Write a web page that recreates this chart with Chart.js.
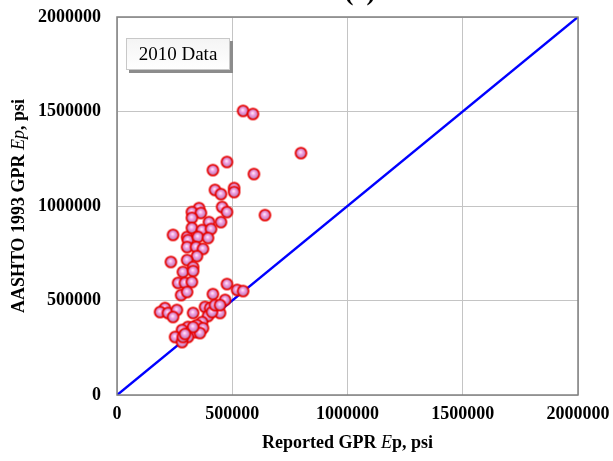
<!DOCTYPE html>
<html>
<head>
<meta charset="utf-8">
<script src="https://cdn.jsdelivr.net/npm/chart.js@4"></script>
<style>
  html, body { margin: 0; padding: 0; background: #fff; }
  #wrap { width: 613px; height: 461px; }
</style>
</head>
<body>
<div id="wrap"><canvas id="chart1" width="613" height="461"></canvas></div>
<script>
// Reported GPR Ep vs AASHTO 1993 GPR Ep (psi), 2010 data
const reportedEp = [
    547000, 590000, 798000, 594000, 477000, 416000, 508000, 508000, 425000, 451000,
    642000, 456000, 477000, 356000, 325000, 364000, 325000, 399000, 451000, 243000,
    304000, 325000, 369000, 408000, 308000, 351000, 395000, 304000, 343000, 373000,
    347000, 234000, 304000, 330000, 286000, 330000, 265000, 295000, 325000, 278000,
    304000,
    477000, 521000, 547000, 416000, 469000, 208000, 187000, 221000, 260000, 243000,
    382000, 404000, 434000, 330000, 395000, 447000, 369000, 351000, 308000, 282000,
    325000, 338000, 308000, 252000, 282000, 347000, 412000, 425000, 373000, 360000,
    286000, 447000, 330000, 295000
];
const aashtoEp = [
    1503000, 1487000, 1280000, 1169000, 1233000, 1190000, 1095000, 1074000, 1085000, 1063000,
    952000, 995000, 968000, 989000, 968000, 963000, 937000, 915000, 915000, 847000,
    836000, 884000, 873000, 878000, 820000, 836000, 831000, 783000, 783000, 773000,
    735000, 704000, 714000, 677000, 651000, 656000, 593000, 593000, 598000, 529000,
    545000,
    587000, 556000, 550000, 534000, 503000, 460000, 439000, 434000, 450000, 413000,
    466000, 460000, 466000, 434000, 418000, 434000, 386000, 360000, 360000, 344000,
    344000, 333000, 307000, 307000, 280000, 370000, 439000, 476000, 354000, 328000,
    307000, 476000, 360000, 323000
];
const equalityLine = [0, 2000000];
const axisTicks = [0, 500000, 1000000, 1500000, 2000000];

const serif = '"Liberation Serif", "Times New Roman", serif';

// shaded ball marker with a red rim
function makeBall() {
    const c = document.createElement('canvas');
    c.width = 15; c.height = 15;
    const g = c.getContext('2d');
    const grad = g.createRadialGradient(7, 6.5, 0.5, 7.5, 7.5, 5.6);
    grad.addColorStop(0, '#fde6f8');
    grad.addColorStop(0.35, '#f19ae0');
    grad.addColorStop(0.75, '#c689bf');
    grad.addColorStop(1, '#7d6a78');
    g.beginPath();
    g.arc(7.5, 7.5, 5.4, 0, Math.PI * 2);
    g.fillStyle = grad;
    g.fill();
    g.lineWidth = 1.8;
    g.strokeStyle = '#e80000';
    g.stroke();
    return c;
}

function drawRuns(ctx, runs, cx, cy) {
    let total = 0;
    runs.forEach(r => { ctx.font = r.font; r.w = ctx.measureText(r.text).width; total += r.w; });
    let x = cx - total / 2;
    runs.forEach(r => { ctx.font = r.font; ctx.fillText(r.text, x, cy); x += r.w; });
}

const decorations = {
    id: 'decorations',
    afterDraw(chart) {
        const { ctx, chartArea: a } = chart;
        ctx.save();
        // plot frame
        ctx.strokeStyle = '#808080';
        ctx.lineWidth = 1.5;
        ctx.strokeRect(a.left, a.top, a.right - a.left, a.bottom - a.top);

        // panel label, mostly above the top edge
        ctx.fillStyle = '#000';
        ctx.textAlign = 'center';
        ctx.textBaseline = 'alphabetic';
        ctx.font = 'bold 26px ' + serif;
        ctx.fillText('(a)', 360, 0);

        // "2010 Data" box
        const bx = 126, by = 38, bw = 104, bh = 32;
        ctx.fillStyle = '#8c8c8c';
        ctx.fillRect(bx + 3, by + 3, bw, bh);
        const bg = ctx.createLinearGradient(0, by, 0, by + bh);
        bg.addColorStop(0, '#f4f4f4');
        bg.addColorStop(1, '#ffffff');
        ctx.fillStyle = bg;
        ctx.fillRect(bx, by, bw, bh);
        ctx.strokeStyle = '#c8c8c8';
        ctx.lineWidth = 1;
        ctx.strokeRect(bx + 0.5, by + 0.5, bw - 1, bh - 1);
        ctx.fillStyle = '#000';
        ctx.textBaseline = 'middle';
        ctx.font = '19px ' + serif;
        ctx.fillText('2010 Data', bx + bw / 2, by + bh / 2 + 1);

        // axis titles with italic E / Ep
        ctx.textAlign = 'left';
        const b = 'bold 18px ' + serif, it = 'italic 18px ' + serif;
        drawRuns(ctx, [
            { text: 'Reported GPR ', font: b },
            { text: 'E', font: it },
            { text: 'p, psi', font: b }
        ], (a.left + a.right) / 2, 443);

        ctx.translate(19, (a.top + a.bottom) / 2);
        ctx.rotate(-Math.PI / 2);
        drawRuns(ctx, [
            { text: 'AASHTO 1993 GPR ', font: b },
            { text: 'Ep', font: it },
            { text: ', psi', font: b }
        ], 0, 0);
        ctx.restore();
    }
};

const tickFont = { family: serif, size: 18, weight: 'bold' };

new Chart(document.getElementById('chart1').getContext('2d'), {
    type: 'scatter',
    data: {
        datasets: [{
            label: '2010 Data',
            data: reportedEp.map((x, i) => ({ x: x, y: aashtoEp[i] })),
            pointStyle: makeBall(),
            order: 0
        }, {
            type: 'line',
            label: 'Line of equality',
            data: equalityLine.map(v => ({ x: v, y: v })),
            borderColor: '#0000ff',
            borderWidth: 2.5,
            pointRadius: 0,
            fill: false,
            order: 1
        }]
    },
    options: {
        responsive: false,
        animation: false,
        devicePixelRatio: 1,
        layout: { padding: { top: 17, right: 35, left: 0, bottom: 0 } },
        plugins: {
            legend: { display: false },
            tooltip: { enabled: false }
        },
        scales: {
            x: {
                type: 'linear',
                min: 0, max: 2000000,
                afterBuildTicks: s => { s.ticks = axisTicks.map(v => ({ value: v })); },
                afterFit: s => { s.height = 66; s.paddingLeft = 0; s.paddingRight = 0; },
                grid: { color: '#c4c4c4', lineWidth: 1, drawTicks: false },
                border: { display: false },
                ticks: { color: '#000', font: tickFont, padding: 9, maxRotation: 0, callback: v => String(v) }
            },
            y: {
                type: 'linear',
                min: 0, max: 2000000,
                afterBuildTicks: s => { s.ticks = axisTicks.map(v => ({ value: v })); },
                afterFit: s => { s.width = 117; s.paddingTop = 0; s.paddingBottom = 0; },
                grid: { color: '#c4c4c4', lineWidth: 1, drawTicks: false },
                border: { display: false },
                ticks: { color: '#000', font: tickFont, padding: 16, callback: v => String(v) }
            }
        }
    },
    plugins: [decorations]
});
</script>
</body>
</html>
